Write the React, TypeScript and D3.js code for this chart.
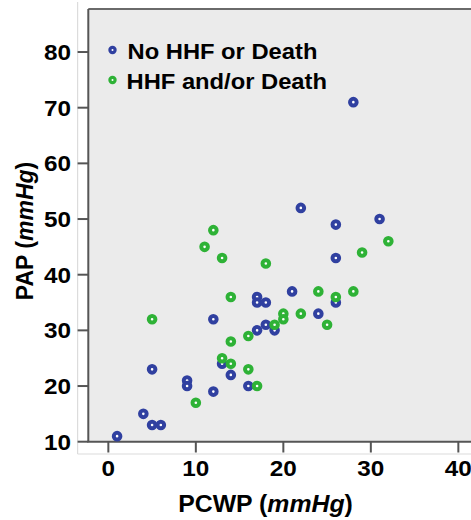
import React from "react";
import * as d3 from "d3";

// PCWP vs PAP, grouped by outcome
const noEventPCWP = [1, 4, 5, 6, 5, 9, 9, 12, 12, 13, 14, 16, 17, 17, 18, 17, 18, 19, 21, 24, 26, 26, 28, 22, 26, 31];
const noEventPAP = [11, 15, 13, 13, 23, 21, 20, 19, 32, 24, 22, 20, 36, 35, 35, 30, 31, 30, 37, 33, 35, 43, 71, 52, 49, 50];

const eventPCWP = [5, 10, 13, 14, 14, 14, 16, 16, 17, 18, 19, 20, 20, 22, 24, 25, 26, 28, 11, 12, 13, 29, 32];
const eventPAP = [32, 17, 25, 24, 28, 36, 29, 23, 20, 42, 31, 33, 32, 33, 37, 31, 36, 37, 45, 48, 43, 44, 46];

const seriesNames = ["No HHF or Death", "HHF and/or Death"];
const seriesColors = ["#3040a0", "#2eb236"];

const xTicks = [0, 10, 20, 30, 40];
const yTicks = [10, 20, 30, 40, 50, 60, 70, 80];

const W = 471;
const H = 520;
const plotLeft = 88.3;
const plotTop = 9;
const plotBottom = 441.7;

const x = d3.scaleLinear().domain([-2.29, 41.8]).range([plotLeft, plotLeft + 44.09 * 8.75]);
const y = d3.scaleLinear().domain([10, 87.73]).range([plotBottom, plotTop]);

const FONT = "'Liberation Sans', Arial, Helvetica, sans-serif";
const SX = 1.08; // horizontal stretch of the lettering

function pts(xs: number[], ys: number[]) {
  return xs.map((v, i) => ({ x: v, y: ys[i] }));
}

const groups = [pts(noEventPCWP, noEventPAP), pts(eventPCWP, eventPAP)];

export default function App() {
  return (
    <div style={{ position: "absolute", left: 0, top: 0 }}>
      <svg width={W} height={H} style={{ display: "block", background: "#fff" }}>
        {/* faint outer frame */}
        <line x1={77.6} x2={77.6} y1={2} y2={454} stroke="#dcdcdc" strokeWidth={1.2} />
        <line x1={77.6} x2={W} y1={454} y2={454} stroke="#dcdcdc" strokeWidth={1.2} />

        {/* plot panel */}
        <rect x={plotLeft} y={plotTop} width={W - plotLeft + 10} height={plotBottom - plotTop} fill="#ebebeb" />
        <line x1={plotLeft} x2={W} y1={plotTop} y2={plotTop} stroke="#6a6a6a" strokeWidth={1.8} />
        <line x1={plotLeft} x2={plotLeft} y1={plotTop} y2={plotBottom} stroke="#555" strokeWidth={2} />
        <line x1={plotLeft - 1} x2={W} y1={plotBottom} y2={plotBottom} stroke="#555" strokeWidth={2} />

        {/* y axis */}
        {yTicks.map((t) => (
          <g key={"y" + t}>
            <line x1={plotLeft} x2={77.6} y1={y(t)} y2={y(t)} stroke="#555" strokeWidth={2} />
            <text
              transform={`translate(71,${y(t) + 8}) scale(${SX},1)`}
              textAnchor="end"
              fontFamily={FONT}
              fontWeight="bold"
              fontSize={22.5}
              fill="#000"
            >
              {t}
            </text>
          </g>
        ))}

        {/* x axis */}
        {xTicks.map((t) => (
          <g key={"x" + t}>
            <line x1={x(t)} x2={x(t)} y1={plotBottom} y2={452.5} stroke="#555" strokeWidth={2} />
            <text
              transform={`translate(${x(t)},476) scale(${SX},1)`}
              textAnchor="middle"
              fontFamily={FONT}
              fontWeight="bold"
              fontSize={22.5}
              fill="#000"
            >
              {t}
            </text>
          </g>
        ))}

        {/* axis titles */}
        <text
          transform={`translate(265.5,511.5) scale(${SX},1)`}
          textAnchor="middle"
          fontFamily={FONT}
          fontWeight="bold"
          fontSize={23}
          fill="#000"
        >
          PCWP (<tspan fontStyle="italic">mmHg</tspan>)
        </text>
        <text
          transform={`translate(32.5,231) scale(${SX},1) rotate(-90)`}
          textAnchor="middle"
          fontFamily={FONT}
          fontWeight="bold"
          fontSize={23}
          fill="#000"
        >
          PAP (<tspan fontStyle="italic">mmHg</tspan>)
        </text>

        {/* points */}
        {groups.map((g, gi) =>
          g.map((p, i) => (
            <circle
              key={gi + "-" + i}
              cx={x(p.x)}
              cy={y(p.y)}
              r={3.3}
              fill="#fff"
              stroke={seriesColors[gi]}
              strokeWidth={4}
            />
          ))
        )}

        {/* legend */}
        {seriesNames.map((name, i) => (
          <g key={name}>
            <circle cx={112.5} cy={50 + i * 30} r={2.6} fill="#fff" stroke={seriesColors[i]} strokeWidth={3.2} />
            <text
              transform={`translate(${127.5 - i},${59.3 + i * 30}) scale(${SX},1)`}
              fontFamily={FONT}
              fontWeight="bold"
              fontSize={22}
              fill="#000"
            >
              {name}
            </text>
          </g>
        ))}
      </svg>
    </div>
  );
}
